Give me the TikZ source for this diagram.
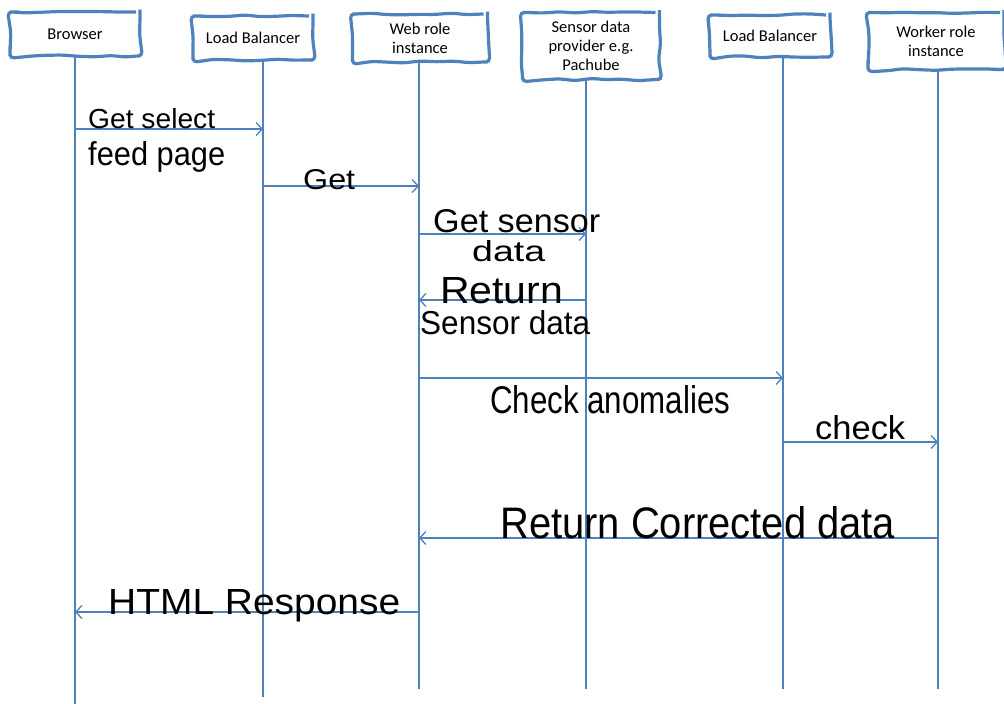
\documentclass[tikz,border=0pt]{standalone}
\usepackage{fontspec}
\setmainfont{Liberation Sans}
\newfontfamily\headfont{Carlito}
\usetikzlibrary{arrows.meta,decorations.pathmorphing}
\definecolor{lineblue}{RGB}{79,129,189}
% label stretched to a given width and height (in pt)
\newcommand{\handtext}[3]{\resizebox{#1pt}{#2pt}{#3}}

\begin{document}
\begin{tikzpicture}[x=1pt,y=-1pt,
  header/.style={draw=lineblue, line width=3.2pt, fill=white,
    font=\headfont\fontsize{16.5}{19}\selectfont, align=center, inner sep=0pt,
    decorate, decoration={random steps, segment length=16pt, amplitude=1.2pt},
    rounded corners=4pt},
  lifeline/.style={draw=lineblue, line width=1.8pt},
  msg/.style={draw=lineblue, line width=1.3pt,
    -{Straight Barb[length=6pt,width=13pt,line width=1.3pt]}},
  note/.style={inner sep=0pt, anchor=base west, text=black}]
\pgfmathsetseed{11}
\useasboundingbox (0,0) rectangle (1004,704);

% lifeline ends
\coordinate (brT) at (75,56);   \coordinate (brB) at (75,704);
\coordinate (lbaT) at (263,60); \coordinate (lbaB) at (263,697);
\coordinate (webT) at (419,62); \coordinate (webB) at (419,689);
\coordinate (senT) at (586,80); \coordinate (senB) at (586,689);
\coordinate (lbbT) at (783,57); \coordinate (lbbB) at (783,689);
\coordinate (wrkT) at (938,70); \coordinate (wrkB) at (938,689);

\draw[lifeline] (brT) -- (brB);
\draw[lifeline] (lbaT) -- (lbaB);
\draw[lifeline] (webT) -- (webB);
\draw[lifeline] (senT) -- (senB);
\draw[lifeline] (lbbT) -- (lbbB);
\draw[lifeline] (wrkT) -- (wrkB);

% participants
\node[header, minimum width=130pt, minimum height=44pt] (browser) at (75,34) {Browser};
\node[header, minimum width=120pt, minimum height=44pt] (lba) at (253,38) {Load Balancer};
\node[header, minimum width=135pt, minimum height=48pt] (web) at (420,38) {Web role\\instance};
\node[header, minimum width=137pt, minimum height=67pt] (sensor) at (591,46) {Sensor data\\provider e.g.\\Pachube};
\node[header, minimum width=120pt, minimum height=42pt] (lbb) at (770,36) {Load Balancer};
\node[header, minimum width=136pt, minimum height=57pt] (worker) at (936,41) {Worker role\\instance};

% message heights
\coordinate (m1) at (0,129);
\coordinate (m2) at (0,186);
\coordinate (m3) at (0,234);
\coordinate (m4) at (0,300);
\coordinate (m5) at (0,378);
\coordinate (m6) at (0,442);
\coordinate (m7) at (0,538);
\coordinate (m8) at (0,612);

% messages
\draw[msg] (brT |- m1) -- (lbaT |- m1);
\draw[msg] (lbaT |- m2) -- (webT |- m2);
\draw[msg] (webT |- m3) -- (senT |- m3);
\draw[msg] (senT |- m4) -- (webT |- m4);
\draw[msg] (webT |- m5) -- (lbbT |- m5);
\draw[msg] (lbbT |- m6) -- (wrkT |- m6);
\draw[msg] (wrkT |- m7) -- (webT |- m7);
\draw[msg] (webT |- m8) -- (brT |- m8);

% message labels
\node[note] (l1a) at (88,128) {\handtext{127}{20}{Get select}};
\node[note] (l1b) at (88,165) {\handtext{137}{24}{feed page}};
\node[note] (l2) at (303,189) {\handtext{52}{20}{Get}};
\node[note] (l3a) at (433,232) {\handtext{167}{23}{Get sensor}};
\node[note] (l3b) at (472,261) {\handtext{73}{21}{data}};
\node[note] (l4a) at (440,303) {\handtext{123}{26}{Return}};
\node[note] (l4b) at (420,334) {\handtext{170}{24}{Sensor data}};
\node[note] (l5) at (490,413) {\handtext{240}{28}{Check anomalies}};
\node[note] (l6) at (815,439) {\handtext{90}{24}{check}};
\node[note] (l7) at (500,538) {\handtext{395}{32}{Return Corrected data}};
\node[note] (l8) at (108,614) {\handtext{292}{25}{HTML Response}};
\end{tikzpicture}
\end{document}
